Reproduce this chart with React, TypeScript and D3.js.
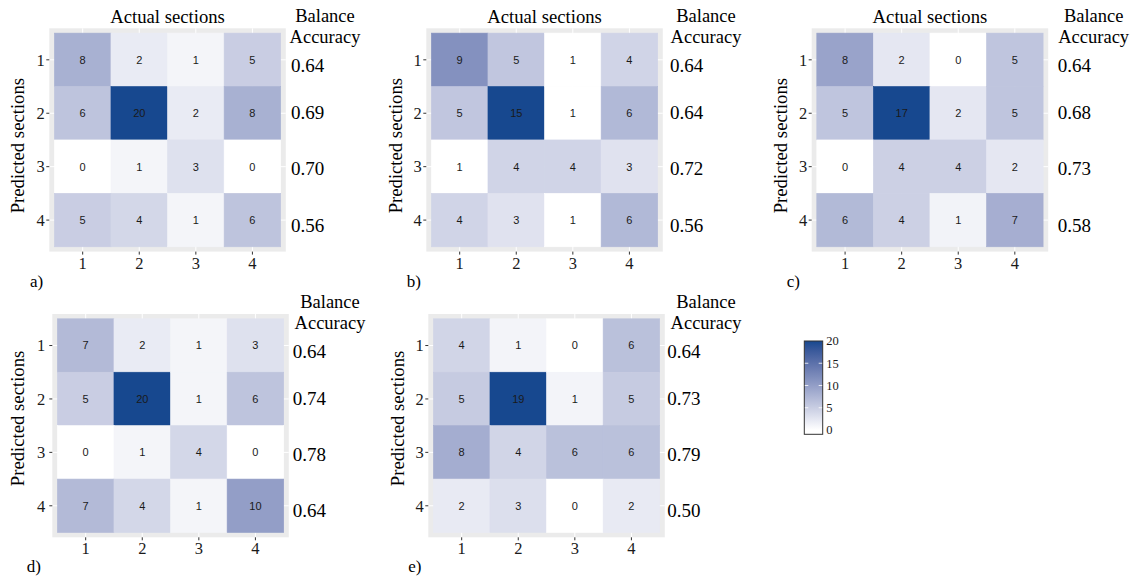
import * as d3 from "d3";

const categories = ["1", "2", "3", "4"];

// confusion matrices: rows = predicted section, columns = actual section
const matrixA = [
  [8, 2, 1, 5],
  [6, 20, 2, 8],
  [0, 1, 3, 0],
  [5, 4, 1, 6],
];
const matrixB = [
  [9, 5, 1, 4],
  [5, 15, 1, 6],
  [1, 4, 4, 3],
  [4, 3, 1, 6],
];
const matrixC = [
  [8, 2, 0, 5],
  [5, 17, 2, 5],
  [0, 4, 4, 2],
  [6, 4, 1, 7],
];
const matrixD = [
  [7, 2, 1, 3],
  [5, 20, 1, 6],
  [0, 1, 4, 0],
  [7, 4, 1, 10],
];
const matrixE = [
  [4, 1, 0, 6],
  [5, 19, 1, 5],
  [8, 4, 6, 6],
  [2, 3, 0, 2],
];

const accuracyA = [0.64, 0.69, 0.7, 0.56];
const accuracyB = [0.64, 0.64, 0.72, 0.56];
const accuracyC = [0.64, 0.68, 0.73, 0.58];
const accuracyD = [0.64, 0.74, 0.78, 0.64];
const accuracyE = [0.64, 0.73, 0.79, 0.5];

const panelTags = ["a)", "b)", "c)", "d)", "e)"];
const legendTicks = [0, 5, 10, 15, 20];

const W = 1136;
const H = 581;
const PW = 236.5;
const PH = 223.3;
const LOW = "#ffffff";
const HIGH = "#17488f";
const SERIF = "Liberation Serif";
const SANS = "Liberation Sans";

// grey panel box position and where its side texts go
const layout = [
  { x: 49.3, y: 28.3, accX: 291, headX: 325, tagX: 30, ylabX: 17.5, ylabDy: 5.7, tickGap: 1.5, header: true },
  { x: 426.3, y: 28.3, accX: 670, headX: 706, tagX: 406.7, ylabX: 395, ylabDy: 5.7, tickGap: 1.5, header: true },
  { x: 811.7, y: 28.3, accX: 1057.7, headX: 1093.7, tagX: 786.7, ylabX: 780, ylabDy: 5.7, tickGap: 1.5, header: true },
  { x: 52.3, y: 314, accX: 292.7, headX: 330, tagX: 26.7, ylabX: 17.5, ylabDy: -7.2, tickGap: 4, header: false },
  { x: 428.3, y: 314, accX: 667.3, headX: 706, tagX: 408.3, ylabX: 397.5, ylabDy: -7.2, tickGap: 1.5, header: false },
];
// small vertical nudges of the accuracy labels
const accNudge = [6, -0.5, 2, 5];

const matrices = [matrixA, matrixB, matrixC, matrixD, matrixE];
const accuracies = [accuracyA, accuracyB, accuracyC, accuracyD, accuracyE];
const fmt = d3.format(".2f");

function Panel({ m, acc, tag, L }: { m: number[][]; acc: number[]; tag: string; L: (typeof layout)[number] }) {
  const x = d3.scaleBand().domain(categories).range([L.x, L.x + PW]).paddingInner(0).paddingOuter(0.09);
  const y = d3.scaleBand().domain(categories).range([L.y, L.y + PH]).paddingInner(0).paddingOuter(0.09);
  const bw = x.bandwidth();
  const bh = y.bandwidth();
  const ext = d3.extent(m.flat()) as [number, number];
  const color = d3.scaleLinear<string>().domain(ext).range([LOW, HIGH]).interpolate(d3.interpolateLab);
  const cells = m.flatMap((row, ri) => row.map((v, ci) => ({ row: categories[ri], col: categories[ci], v })));
  const bottom = L.y + PH;
  const serif = (size: number) => ({ fontFamily: SERIF, fontSize: `${size}px` });

  return (
    <g>
      <rect x={L.x} y={L.y} width={PW} height={PH} fill="#ebebeb" />
      {categories.map((c) => (
        <g key={"g" + c}>
          <line x1={x(c)! + bw / 2} x2={x(c)! + bw / 2} y1={L.y} y2={bottom} stroke="#fff" />
          <line y1={y(c)! + bh / 2} y2={y(c)! + bh / 2} x1={L.x} x2={L.x + PW} stroke="#fff" />
        </g>
      ))}
      {cells.map((d) => (
        <rect
          key={"r" + d.row + d.col}
          x={x(d.col)}
          y={y(d.row)}
          width={bw}
          height={bh}
          fill={color(d.v)}
          stroke={color(d.v)}
          strokeWidth={0.6}
        />
      ))}
      {cells.map((d) => (
        <text
          key={"t" + d.row + d.col}
          x={x(d.col)! + bw / 2}
          y={y(d.row)! + bh / 2}
          dy="0.36em"
          textAnchor="middle"
          fill="#1a1a1a"
          style={{ fontFamily: SANS, fontSize: "11px" }}
        >
          {d.v}
        </text>
      ))}
      {categories.map((c) => (
        <g key={"a" + c}>
          <line x1={L.x - 3} x2={L.x} y1={y(c)! + bh / 2} y2={y(c)! + bh / 2} stroke="#333" />
          <text
            x={L.x - 3 - L.tickGap}
            y={y(c)! + bh / 2}
            dy="0.35em"
            textAnchor="end"
            fill="#1a1a1a"
            style={serif(16.5)}
          >
            {c}
          </text>
          <line x1={x(c)! + bw / 2} x2={x(c)! + bw / 2} y1={bottom} y2={bottom + 3} stroke="#333" />
          <text x={x(c)! + bw / 2} y={bottom + 17} textAnchor="middle" fill="#1a1a1a" style={serif(16.5)}>
            {c}
          </text>
        </g>
      ))}
      {L.header && (
        <text x={L.x + PW / 2} y={L.y - 5.3} textAnchor="middle" style={serif(18.7)}>
          Actual sections
        </text>
      )}
      <text x={L.headX} y={L.y - 6} textAnchor="middle" style={serif(18.5)}>
        Balance
      </text>
      <text x={L.headX} y={L.y + 15} textAnchor="middle" style={serif(18.5)}>
        Accuracy
      </text>
      {acc.map((a, i) => (
        <text key={"acc" + i} x={L.accX} y={y(categories[i])! + bh / 2 + 6.5 + accNudge[i]} style={serif(19)}>
          {fmt(a)}
        </text>
      ))}
      <text x={L.tagX} y={bottom + 35} style={serif(17)}>
        {tag}
      </text>
      <text
        transform={`translate(${L.ylabX},${L.y + PH / 2 + L.ylabDy}) rotate(-90)`}
        dy="0.35em"
        textAnchor="middle"
        style={serif(18.7)}
      >
        Predicted sections
      </text>
    </g>
  );
}

function Legend() {
  const lx = 804.3;
  const lw = 18.4;
  const ly = d3.scaleLinear().domain([0, 20]).range([430, 341]);
  const lcolor = d3.scaleLinear<string>().domain([0, 20]).range([LOW, HIGH]).interpolate(d3.interpolateLab);
  const stops = d3.range(0, 21, 2);
  return (
    <g>
      <defs>
        <linearGradient id="legendGrad" gradientUnits="userSpaceOnUse" x1={0} x2={0} y1={ly(0)} y2={ly(20)}>
          {stops.map((v) => (
            <stop key={v} offset={v / 20} stopColor={lcolor(v)} />
          ))}
        </linearGradient>
      </defs>
      <rect x={lx} y={341} width={lw} height={93.3} fill="url(#legendGrad)" stroke="#333" />
      {legendTicks.slice(1, -1).map((v) => (
        <g key={"lt" + v}>
          <line x1={lx + 0.5} x2={lx + 4} y1={ly(v)} y2={ly(v)} stroke="#fff" strokeOpacity={0.8} />
          <line x1={lx + lw - 4} x2={lx + lw - 0.5} y1={ly(v)} y2={ly(v)} stroke="#fff" strokeOpacity={0.8} />
        </g>
      ))}
      {legendTicks.map((v) => (
        <text
          key={"ll" + v}
          x={lx + lw + 3.5}
          y={ly(v)}
          dy="0.35em"
          fill="#1a1a1a"
          style={{ fontFamily: SERIF, fontSize: "12.5px" }}
        >
          {v}
        </text>
      ))}
    </g>
  );
}

export default function App() {
  return (
    <svg width={W} height={H} style={{ position: "absolute", left: 0, top: 0, display: "block", background: "#fff" }}>
      {matrices.map((m, i) => (
        <Panel key={i} m={m} acc={accuracies[i]} tag={panelTags[i]} L={layout[i]} />
      ))}
      <Legend />
    </svg>
  );
}
